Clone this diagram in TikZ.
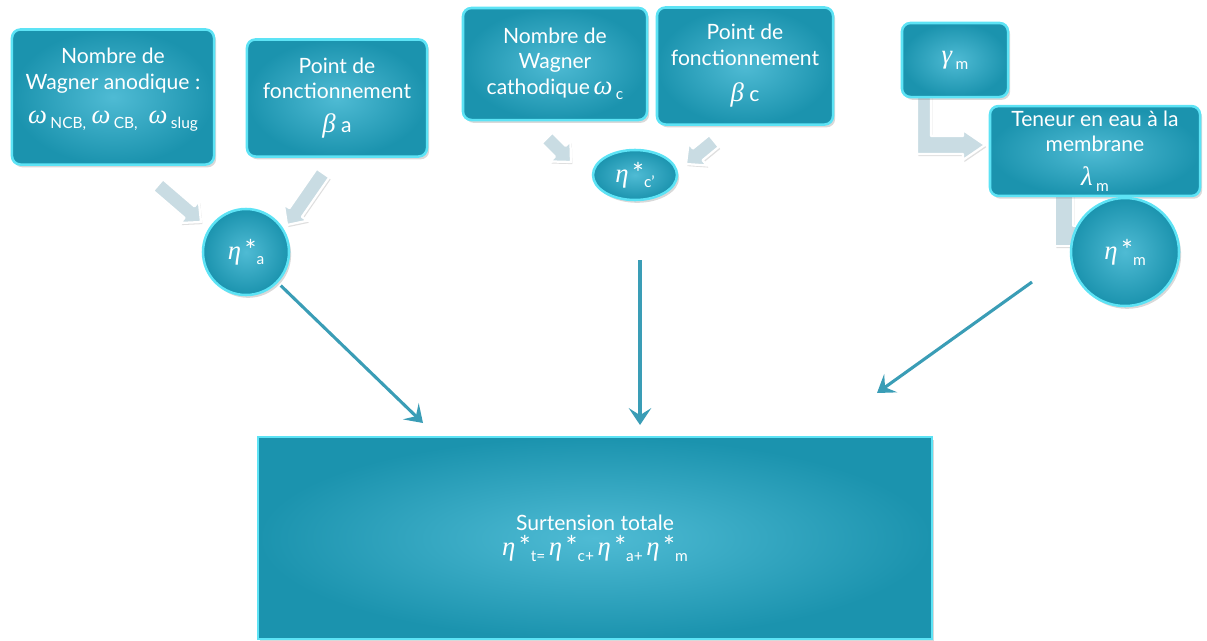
\documentclass[tikz,border=0pt]{standalone}
\usepackage{fontspec}
\setmainfont{Lato}
\newfontfamily\greekfont{Liberation Serif}
\usepackage{xcolor}
\usepackage{tikz}
\usetikzlibrary{arrows.meta, positioning, calc, shadows, backgrounds, shapes.geometric}
\definecolor{tealdark}{HTML}{1B93AE}
\definecolor{teallight}{HTML}{4FBBD4}
\definecolor{cyanborder}{HTML}{5DE3F5}
\definecolor{arrowteal}{HTML}{3A9DB6}
\definecolor{blockfill}{HTML}{C9DCE3}
\newcommand{\grk}[1]{{\greekfont\itshape\fontsize{19}{18}\selectfont #1}}
\newcommand{\lowtxt}[1]{\raisebox{-0.55ex}{\fontsize{11}{11}\selectfont #1}}
\newcommand{\starup}{\raisebox{-0.1ex}{\fontsize{20}{18}\selectfont *}}
\tikzstyle{box} = [rectangle, rounded corners=6pt, draw=cyanborder, line width=1.8pt, inner color=teallight, outer color=tealdark, text=white, align=center, font=\fontsize{15}{18}\selectfont, drop shadow={opacity=0.3, shadow xshift=1.5pt, shadow yshift=-2pt}]
\tikzstyle{bubble} = [box, circle, inner sep=0pt]
\tikzstyle{arrow} = [arrowteal, line width=2.2pt, -{Stealth[length=12pt, width=16pt, inset=5pt]}]
\tikzstyle{fat} = [fill=blockfill, draw=white, line width=1.6pt, line join=round, drop shadow={opacity=0.25, shadow xshift=1pt, shadow yshift=-1.5pt}]
% block arrow from #1 to #2
\newcommand{\blockarrow}[2]{%
  \coordinate (bah) at ($(#2)!0.38cm!(#1)$);
  \draw[fat] ($(#1)!0.19cm!90:(#2)$) -- ($(bah)!0.19cm!90:(#2)$) -- ($(bah)!0.36cm!90:(#2)$) -- (#2)
    -- ($(bah)!0.36cm!-90:(#2)$) -- ($(bah)!0.19cm!-90:(#2)$) -- ($(#1)!0.19cm!-90:(#2)$) -- cycle;}

\begin{document}
\begin{tikzpicture}[x=0.025cm, y=-0.025cm]
\useasboundingbox (0,0) rectangle (1207,640);

% ===== ANODE (LEFT) =====
\node (wagner_a) [box, minimum width=5.05cm, minimum height=3.375cm] at (113,97) {Nombre de\\ Wagner anodique :\\[6pt] \grk{ω}\,\lowtxt{NCB,}\ \grk{ω}\,\lowtxt{CB,}\ \ \grk{ω}\,\lowtxt{slug}\\[-2pt] \mbox{}};
\node (point_a) [box, minimum width=4.5cm, minimum height=2.925cm] at (337,98) {Point de\\ fonctionnement\\[6pt] \grk{β}\ a};
\node (eta_a) [bubble, minimum size=2.15cm] at (246,252) {\grk{η}\,\starup\lowtxt{a}};

% ===== CATHODE (MIDDLE) =====
\node (wagner_c) [box, minimum width=4.6cm, minimum height=2.8cm] at (555,64) {Nombre de\\ Wagner\\ cathodique\,\grk{ω}\,\lowtxt{c}};
\node (point_c) [box, minimum width=4.4cm, minimum height=2.925cm] at (745,66) {Point de\\ fonctionnement\\[8pt] \grk{β}\ c};
\node (eta_c) [box, ellipse, inner sep=0pt, minimum width=2.1cm, minimum height=1.25cm] at (635,175) {\grk{η}\,\starup\lowtxt{c’}};

% ===== MEMBRANE (RIGHT) =====
\node (gamma_m) [box, minimum width=2.65cm, minimum height=1.85cm] at (955,60) {\grk{γ}\,\lowtxt{m}};
\node (teneur) [box, minimum width=5.25cm, minimum height=2.175cm] at (1095,151) {Teneur en eau à la\\ membrane\\[6pt] \grk{λ}\,\lowtxt{m}};

% L-shaped block arrows, behind the boxes
\begin{pgfonlayer}{background}
\draw[fat] (917,90) -- (917,154) -- (963,154) -- (963,160) -- (985,145) -- (963,130) -- (963,136) -- (931,136) -- (931,90) -- cycle;
\draw[fat] (1055,185) -- (1055,246) -- (1095,246) -- (1095,226) -- (1073,226) -- (1073,185) -- cycle;
\end{pgfonlayer}

\node (eta_m) [bubble, minimum size=2.7cm] at (1125,252) {\grk{η}\,\starup\lowtxt{m}};

% ===== TOTAL (BOTTOM) =====
\node (total) [box, sharp corners, minimum width=16.85cm, minimum height=5.05cm] at (595,538) {Surtension totale\\ \grk{η}\,\starup\lowtxt{t=}\,\grk{η}\,\starup\lowtxt{c+}\,\grk{η}\,\starup\lowtxt{a+}\,\grk{η}\,\starup\lowtxt{m}};

% ===== BLOCK ARROWS =====
\coordinate (wa_out) at (158,185);
\coordinate (wa_in) at (201,222);
\coordinate (pa_out) at (323,173);
\coordinate (pa_in) at (287,225);
\coordinate (wc_out) at (547,138);
\coordinate (wc_in) at (571,162);
\coordinate (pc_out) at (714,141);
\coordinate (pc_in) at (686,164);
\blockarrow{wa_out}{wa_in}
\blockarrow{pa_out}{pa_in}
\blockarrow{wc_out}{wc_in}
\blockarrow{pc_out}{pc_in}

% ===== ARROWS TO TOTAL =====
\coordinate (to_a) at (423,423);
\coordinate (from_c) at (640,260);
\coordinate (to_c) at (640,425);
\coordinate (from_m) at (1032,282);
\coordinate (to_m) at (877,393);
\draw [arrow, shorten <=0.1cm] (eta_a) -- (to_a);
\draw [arrow] (from_c) -- (to_c);
\draw [arrow] (from_m) -- (to_m);

\end{tikzpicture}
\end{document}
